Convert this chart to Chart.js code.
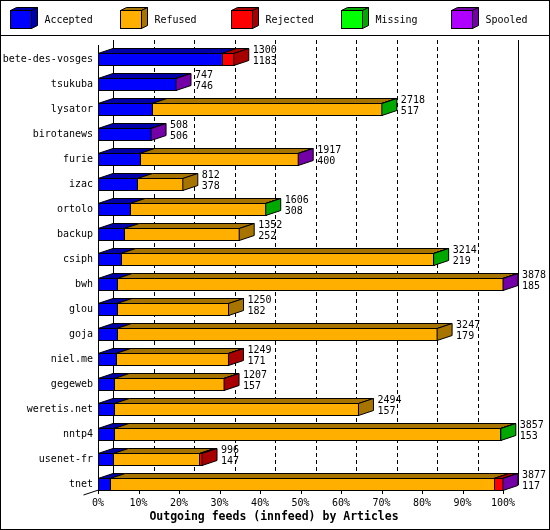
<!DOCTYPE html>
<html><head><meta charset="utf-8">
<script src="https://cdn.jsdelivr.net/npm/chart.js@4.4.0/dist/chart.umd.min.js"></script>
<style>html,body{margin:0;padding:0;background:#fff;overflow:hidden}canvas{display:block}</style>
</head><body>
<canvas id="c" width="550" height="530"></canvas>
<script>
const hosts = ['bete-des-vosges','tsukuba','lysator','birotanews','furie','izac','ortolo','backup','csiph','bwh','glou','goja','niel.me','gegeweb','weretis.net','nntp4','usenet-fr','tnet'];
const offered  = [1300, 747, 2718, 508, 1917, 812, 1606, 1352, 3214, 3878, 1250, 3247, 1249, 1207, 2494, 3857, 996, 3877];
const accepted = [1183, 746, 517, 506, 400, 378, 308, 252, 219, 185, 182, 179, 171, 157, 157, 153, 147, 117];
const refused  = [0, 0, 2199, 0, 1515, 434, 1296, 1100, 2993, 3690, 1068, 3068, 1076, 1048, 2337, 3700, 824, 3673];
const rejected = [117, 0, 0, 0, 0, 0, 0, 0, 0, 0, 0, 0, 2, 2, 0, 0, 25, 85];
const missing  = [0, 0, 2, 0, 0, 0, 2, 0, 2, 0, 0, 0, 0, 0, 0, 4, 0, 0];
const spooled  = [0, 1, 0, 2, 2, 0, 0, 0, 0, 3, 0, 0, 0, 0, 0, 0, 0, 2];
const seriesNames = ['Accepted', 'Refused', 'Rejected', 'Missing', 'Spooled'];
const frontColors = ['#0000ff', '#ffaf00', '#ff0000', '#00ff00', '#af00ff'];
const darkColors  = ['#0000a8', '#a87400', '#a80000', '#00a800', '#7400a8'];
const xTicks = [0, 10, 20, 30, 40, 50, 60, 70, 80, 90, 100];
const axisTitle = 'Outgoing feeds (innfeed) by Articles';

const series = [accepted, refused, rejected, missing, spooled];
const maxOffered = Math.max(...offered);
const toPct = arr => arr.map(v => v / maxOffered * 100);

const DX = 15, DY = 5;
const MONO = '"DejaVu Sans Mono", "Liberation Mono", monospace';
const FONT = '10px ' + MONO;

function poly(ctx, pts, fill) {
  ctx.beginPath();
  ctx.moveTo(pts[0][0], pts[0][1]);
  for (let i = 1; i < pts.length; i++) ctx.lineTo(pts[i][0], pts[i][1]);
  ctx.closePath();
  if (fill) { ctx.fillStyle = fill; ctx.fill(); }
  ctx.strokeStyle = '#000'; ctx.lineWidth = 1; ctx.stroke();
}
const sx = x => Math.round(x) + 0.5;

const plugin3d = {
  id: 'plugin3d',
  beforeDatasetsDraw(chart) {
    const ctx = chart.ctx, xs = chart.scales.x, ca = chart.chartArea;
    const wallTop = ca.top - 7, floor = ca.bottom - 7;
    ctx.save();
    ctx.strokeStyle = '#000'; ctx.lineWidth = 1;
    xTicks.forEach((t, k) => {
      const x = sx(xs.getPixelForValue(t) + DX);
      ctx.setLineDash((k === 0 || k === xTicks.length - 1) ? [] : [4, 3]);
      ctx.beginPath(); ctx.moveTo(x, wallTop); ctx.lineTo(x, floor - DY); ctx.stroke();
    });
    ctx.restore();
  },
  afterDatasetsDraw(chart) {
    const ctx = chart.ctx, xs = chart.scales.x, ca = chart.chartArea;
    const floor = ca.bottom - 7;
    ctx.save();
    ctx.lineWidth = 1; ctx.strokeStyle = '#000';
    hosts.forEach((h, i) => {
      let last = -1, yc = 0, t = 0, b = 0, xEnd = 0;
      const segs = [];
      series.forEach((s, d) => {
        const el = chart.getDatasetMeta(d).data[i];
        const p = el.getProps(['x', 'y', 'base', 'height'], true);
        yc = p.y; t = p.y - p.height / 2; b = p.y + p.height / 2;
        const x0 = Math.min(p.x, p.base), x1 = Math.max(p.x, p.base);
        if (s[i] > 0) { segs.push([x0, x1, d]); last = d; xEnd = x1; }
      });
      // top faces
      segs.forEach(([x0, x1, d]) => {
        poly(ctx, [[x0, t], [x1, t], [x1 + DX, t - DY], [x0 + DX, t - DY]], darkColors[d]);
      });
      // front outlines
      segs.forEach(([x0, x1]) => {
        ctx.strokeRect(sx(x0), t, Math.max(0, sx(x1) - sx(x0)), b - t);
      });
      // side face
      if (last >= 0) {
        poly(ctx, [[xEnd, t], [xEnd + DX, t - DY], [xEnd + DX, b - DY], [xEnd, b]], darkColors[last]);
      }
      // value labels
      ctx.fillStyle = '#000'; ctx.font = FONT;
      ctx.textAlign = 'left'; ctx.textBaseline = 'middle';
      ctx.fillText(String(offered[i]), xEnd + DX + 4, yc - 9);
      ctx.fillText(String(accepted[i]), xEnd + DX + 4, yc + 1.5);
    });
    // front axis
    const x0 = sx(xs.getPixelForValue(0));
    ctx.beginPath(); ctx.moveTo(x0, ca.top - 2); ctx.lineTo(x0, floor + 3); ctx.stroke();
    ctx.beginPath(); ctx.moveTo(x0, floor + 0.5); ctx.lineTo(sx(xs.getPixelForValue(100)), floor + 0.5); ctx.stroke();
    ctx.beginPath(); ctx.moveTo(x0 - DX, floor + DY); ctx.lineTo(x0, floor); ctx.stroke();
    xTicks.forEach(tk => {
      const x = sx(xs.getPixelForValue(tk));
      ctx.beginPath(); ctx.moveTo(x, floor); ctx.lineTo(x, floor + 4); ctx.stroke();
    });
    ctx.restore();
  },
  afterDraw(chart) {
    const ctx = chart.ctx, W = chart.width, H = chart.height;
    ctx.save();
    ctx.lineWidth = 1; ctx.strokeStyle = '#000';
    // legend
    seriesNames.forEach((n, k) => {
      const bx = 10.5 + Math.round(110.3 * k), by = 10.5, bw = 21, bh = 18, dx = 6, dy = 3;
      poly(ctx, [[bx, by], [bx + bw, by], [bx + bw + dx, by - dy], [bx + dx, by - dy]], darkColors[k]);
      poly(ctx, [[bx + bw, by], [bx + bw + dx, by - dy], [bx + bw + dx, by + bh - dy], [bx + bw, by + bh]], darkColors[k]);
      ctx.fillStyle = frontColors[k]; ctx.fillRect(bx, by, bw, bh);
      ctx.strokeRect(bx, by, bw, bh);
      ctx.fillStyle = '#000'; ctx.font = FONT; ctx.textAlign = 'left'; ctx.textBaseline = 'middle';
      ctx.fillText(n, bx + 34, 20);
    });
    ctx.beginPath(); ctx.moveTo(0, 35.5); ctx.lineTo(W, 35.5); ctx.stroke();
    ctx.strokeRect(0.5, 0.5, W - 1, H - 1);
    // axis title
    ctx.font = 'bold 11.5px ' + MONO; ctx.textAlign = 'center'; ctx.textBaseline = 'middle';
    ctx.fillStyle = '#000';
    ctx.fillText(axisTitle, 274, 517);
    ctx.restore();
  }
};

new Chart(document.getElementById('c'), {
  type: 'bar',
  data: {
    labels: hosts,
    datasets: series.map((s, d) => ({
      label: seriesNames[d],
      data: toPct(s),
      backgroundColor: frontColors[d],
      borderWidth: 0,
      barThickness: 12
    }))
  },
  options: {
    indexAxis: 'y',
    responsive: false,
    devicePixelRatio: 1,
    animation: false,
    layout: { padding: { top: 47, right: 47, left: 0, bottom: 0 } },
    scales: {
      x: {
        type: 'linear', stacked: true, min: 0, max: 100,
        afterFit: s => { s.height = 33; },
        afterBuildTicks: s => { s.ticks = xTicks.map(v => ({ value: v })); },
        ticks: { callback: v => v + '%', color: '#000', font: { family: MONO, size: 10 }, padding: 0, maxRotation: 0 },
        grid: { display: false, drawTicks: false },
        border: { display: false }
      },
      y: {
        type: 'category', stacked: true,
        afterFit: s => { s.width = 98; },
        ticks: { color: '#000', font: { family: MONO, size: 10 }, padding: 5, autoSkip: false },
        grid: { display: false, drawTicks: false },
        border: { display: false }
      }
    },
    plugins: { legend: { display: false }, tooltip: { enabled: false }, title: { display: false } }
  },
  plugins: [plugin3d]
});
</script>
</body></html>
